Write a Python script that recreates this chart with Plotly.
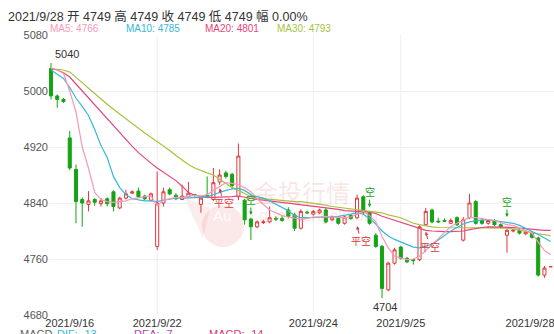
import plotly.graph_objects as go

# ---------------- data ----------------
tick_idx = [3, 17, 42, 56, 76.7]
tick_text = ["2021/9/16", "2021/9/22", "2021/9/24", "2021/9/25", "2021/9/28"]
vgrid_idx = [17, 42, 56]
y_ticks = [4680, 4760, 4840, 4920, 5000, 5080]

opens = [5032, 4993, 4988, 4933, 4888, 4845, 4838, 4845, 4839, 4846,
         4856, 4833, 4847, 4854, 4857, 4850, 4844, 4778, 4840, 4859,
         4851, 4845, 4849, 4852, 4838, 4851, 4845, 4870, 4883, 4881,
         4849, 4844, 4817, 4806, 4812, 4813, 4818, 4818, 4830, 4823,
         4804, 4827, 4824, 4826, 4830, 4816, 4818, 4811, 4822, 4819,
         4849, 4826, 4794, 4778, 4716, 4754, 4777, 4761, 4759, 4759,
         4809, 4830, 4814, 4815, 4811, 4819, 4787, 4819, 4842, 4815,
         4811, 4815, 4809, 4794, 4800, 4801, 4796, 4797, 4790, 4737, 4749]
highs = [5040, 4995, 4990, 4943, 4895, 4848, 4857, 4847, 4847, 4848,
         4858, 4849, 4859, 4858, 4862, 4852, 4855, 4885, 4862, 4862,
         4854, 4866, 4870, 4853, 4849, 4878, 4890, 4888, 4886, 4883,
         4925, 4846, 4819, 4815, 4816, 4835, 4821, 4822, 4834, 4826,
         4831, 4829, 4830, 4832, 4833, 4822, 4820, 4822, 4824, 4852,
         4851, 4828, 4797, 4780, 4756, 4776, 4779, 4763, 4760, 4808,
         4833, 4832, 4819, 4818, 4818, 4821, 4820, 4853, 4844, 4817,
         4817, 4817, 4811, 4803, 4803, 4803, 4801, 4799, 4792, 4750, 4749]
lows = [4988, 4976, 4983, 4887, 4811, 4806, 4828, 4836, 4835, 4835,
        4828, 4831, 4845, 4853, 4847, 4844, 4842, 4773, 4835, 4851,
        4844, 4844, 4848, 4849, 4826, 4847, 4843, 4866, 4875, 4860,
        4844, 4809, 4787, 4804, 4810, 4811, 4814, 4813, 4818, 4800,
        4802, 4824, 4822, 4824, 4811, 4814, 4809, 4809, 4816, 4817,
        4824, 4809, 4776, 4704, 4714, 4752, 4759, 4754, 4752, 4757,
        4807, 4811, 4812, 4813, 4810, 4807, 4785, 4817, 4809, 4809,
        4809, 4807, 4804, 4769, 4798, 4795, 4794, 4789, 4735, 4733, 4749]
closes = [4993, 4988, 4985, 4890, 4842, 4840, 4843, 4841, 4843, 4839,
          4835, 4847, 4853, 4856, 4849, 4846, 4853, 4840, 4856, 4853,
          4846, 4850, 4854, 4851, 4847, 4848, 4869, 4880, 4878, 4865,
          4907, 4816, 4806, 4813, 4813, 4819, 4817, 4815, 4821, 4804,
          4828, 4826, 4828, 4830, 4813, 4820, 4811, 4820, 4818, 4847,
          4826, 4811, 4778, 4718, 4754, 4773, 4761, 4756, 4758, 4806,
          4828, 4813, 4813, 4814, 4815, 4809, 4816, 4840, 4811, 4811,
          4815, 4809, 4806, 4801, 4801, 4797, 4799, 4791, 4737, 4747, 4749]

ma5 = [5033, 5030, 5025, 5000, 4970, 4920, 4890, 4855, 4845, 4842,
       4841, 4842, 4843, 4846, 4848, 4849, 4850, 4836, 4844, 4846,
       4848, 4848, 4850, 4851, 4850, 4852, 4858, 4864, 4869, 4868,
       4866, 4862, 4856, 4846, 4838, 4830, 4826, 4822, 4820, 4818,
       4817, 4818, 4820, 4820, 4821, 4820, 4819, 4819, 4820, 4824,
       4828, 4822, 4813, 4792, 4776, 4764, 4761, 4759, 4760, 4764,
       4772, 4780, 4789, 4798, 4806, 4811, 4815, 4819, 4819, 4818,
       4817, 4815, 4812, 4809, 4808, 4804, 4801, 4797, 4784, 4772, 4766]
ma10 = [5030, 5024, 5018, 5005, 4990, 4978, 4965, 4945, 4922, 4905,
        4878, 4862, 4852, 4846, 4844, 4843, 4843, 4842, 4844, 4846,
        4847, 4847, 4847, 4848, 4848, 4849, 4852, 4856, 4858, 4860,
        4861, 4858, 4852, 4849, 4847, 4843, 4838, 4834, 4829, 4822,
        4819, 4819, 4819, 4820, 4820, 4820, 4821, 4822, 4824, 4826,
        4824, 4818, 4810, 4800, 4793, 4788, 4784, 4780, 4777, 4776,
        4778, 4781, 4787, 4794, 4800, 4805, 4810, 4813, 4815, 4816,
        4816, 4815, 4814, 4813, 4811, 4808, 4804, 4800, 4795, 4790, 4785]
ma20 = [5032, 5030, 5026, 5020, 5010, 5000, 4990, 4980, 4970, 4960,
        4950, 4940, 4930, 4921, 4912, 4904, 4897, 4890, 4884, 4878,
        4872, 4864, 4855, 4851, 4849, 4848, 4848, 4848, 4849, 4849,
        4850, 4848, 4846, 4845, 4844, 4843, 4842, 4841, 4840, 4839,
        4838, 4837, 4836, 4835, 4834, 4833, 4831, 4829, 4828, 4828,
        4828, 4827, 4825, 4821, 4818, 4815, 4812, 4809, 4806, 4803,
        4801, 4800, 4799, 4799, 4799, 4799, 4800, 4802, 4804, 4805,
        4806, 4806, 4806, 4806, 4805, 4804, 4803, 4802, 4801, 4801, 4801]
ma30 = [5032, 5031, 5030, 5027, 5020, 5012, 5004, 4996, 4988, 4981,
        4974, 4967, 4960, 4953, 4946, 4940, 4934, 4928, 4922, 4915,
        4908, 4901, 4895, 4890, 4886, 4883, 4880, 4874, 4868, 4862,
        4858, 4853, 4849, 4847, 4846, 4845, 4844, 4844, 4843, 4842,
        4842, 4841, 4840, 4839, 4837, 4835, 4834, 4832, 4831, 4830,
        4830, 4829, 4828, 4826, 4823, 4821, 4819, 4815, 4811, 4809,
        4807, 4806, 4805, 4805, 4805, 4805, 4805, 4805, 4805, 4805,
        4805, 4805, 4805, 4804, 4803, 4801, 4800, 4798, 4796, 4795, 4793]

# signals: (candle index, arrow-tip price, text, kind)
signals = [(27, 4861, "平空", "close"), (32, 4823, "空", "open"),
           (49, 4807, "平空", "close"), (51, 4834, "空", "open"),
           (60, 4799, "平空", "close"), (73, 4820, "空", "open")]

macd_labels = [("MACD", "#666666"), ("DIF: -13", "#35b9d9"),
               ("DEA: -7", "#b344c4"), ("MACD: -14", "#d8357a")]

# ---------------- styling ----------------
FONT = "Arial, 'Liberation Sans', 'Noto Sans CJK SC', sans-serif"
RED = "#e0363a"
GREEN = "#15a315"
C_MA5, C_MA10, C_MA20, C_MA30 = "#f59ab6", "#36b8d8", "#e8457c", "#a6c33f"

L, R, T, B = 49, 0, 35, 19
W, H = 554, 334
PW, PH = W - L - R, H - T - B


def px(xp):
    return (xp - L) / PW


def py(yp):
    return (H - B - yp) / PH


x = list(range(len(opens)))

fig = go.Figure()
fig.add_trace(go.Candlestick(
    x=x, open=opens, high=highs, low=lows, close=closes,
    increasing=dict(line=dict(color=RED, width=1), fillcolor="#ffffff"),
    decreasing=dict(line=dict(color=GREEN, width=1), fillcolor=GREEN),
    whiskerwidth=0, hoverinfo="skip"))

for arr, col in [(ma30, C_MA30), (ma20, C_MA20), (ma10, C_MA10), (ma5, C_MA5)]:
    fig.add_trace(go.Scatter(x=x, y=arr, mode="lines",
                             line=dict(color=col, width=1.2), hoverinfo="skip"))

shapes = []
for gi in vgrid_idx:
    shapes.append(dict(type="line", xref="x", yref="paper", x0=gi, x1=gi, y0=0, y1=1,
                       line=dict(color="#eeeeee", width=1), layer="below"))
# watermark logo
shapes.append(dict(type="circle", xref="paper", yref="paper",
                   x0=px(202), x1=px(244), y0=py(247), y1=py(205),
                   fillcolor="rgba(236,150,150,0.22)", line=dict(width=0), layer="below"))
shapes.append(dict(type="path", xref="paper", yref="paper",
                   path=f"M {px(210)},{py(208)} L {px(184)},{py(197)} L {px(203)},{py(238)} Z",
                   fillcolor="rgba(236,150,150,0.18)", line=dict(width=0), layer="below"))

ann = []
# header
n = len(opens) - 1
ann.append(dict(xref="paper", yref="paper", x=px(6), y=py(16), xanchor="left", yanchor="middle",
                text=f"2021/9/28 开 {opens[n]} 高 {highs[n]} 收 {closes[n]} 低 {lows[n]} 幅 0.00%",
                showarrow=False, font=dict(size=12.5, color="#333333", family=FONT)))
for name, arr, col, xp in [("MA5", ma5, C_MA5, 48), ("MA10", ma10, C_MA10, 124),
                           ("MA20", ma20, C_MA20, 203), ("MA30", ma30, C_MA30, 275)]:
    ann.append(dict(xref="paper", yref="paper", x=px(xp), y=py(28), xanchor="left",
                    yanchor="middle", text=f"{name}: {arr[-1]}", showarrow=False,
                    font=dict(size=10, color=col, family=FONT)))
# max / min labels
imax = highs.index(max(highs))
imin = lows.index(min(lows))
ann.append(dict(x=imax, y=highs[imax], xanchor="left", yanchor="bottom", text=str(highs[imax]),
                showarrow=False, xshift=2, yshift=1, font=dict(size=11, color="#333333", family=FONT)))
ann.append(dict(x=imin, y=lows[imin], xanchor="center", yanchor="top", text=str(lows[imin]),
                showarrow=False, xshift=3, yshift=-1, font=dict(size=11, color="#333333", family=FONT)))
# signals
for i, p, txt, kind in signals:
    col = RED if kind == "close" else GREEN
    ay = 15 if kind == "close" else -15
    ann.append(dict(x=i, y=p, text=txt, showarrow=True, ax=4 if kind == "close" else 0, ay=ay,
                    arrowhead=2, arrowsize=0.7, arrowwidth=1, arrowcolor=col,
                    font=dict(size=10, color=col, family=FONT)))
# watermark text
ann.append(dict(xref="paper", yref="paper", x=px(302), y=py(193), text="金投行情", showarrow=False,
                font=dict(size=24, color="rgba(230,140,140,0.22)", family=FONT)))
ann.append(dict(xref="paper", yref="paper", x=px(318), y=py(226), text="quote.cngold.org",
                showarrow=False, font=dict(size=16, color="rgba(230,140,140,0.22)", family=FONT)))
ann.append(dict(xref="paper", yref="paper", x=px(222), y=py(226), text="Au", showarrow=False,
                font=dict(size=15, color="rgba(255,255,255,0.9)", family=FONT)))
# bottom MACD row (cut off by the window edge, as in the original)
for (txt, col), xp in zip(macd_labels, [18, 55, 132, 207]):
    ann.append(dict(xref="paper", yref="paper", x=px(xp), y=py(326), xanchor="left", yanchor="top",
                    text=txt, showarrow=False, font=dict(size=11, color=col, family=FONT)))

fig.update_layout(
    width=W, height=H, margin=dict(l=L, r=R, t=T, b=B),
    paper_bgcolor="white", plot_bgcolor="white", showlegend=False,
    font=dict(family=FONT),
    shapes=shapes, annotations=ann,
    xaxis=dict(range=[-0.32, 80.53], tickvals=tick_idx, ticktext=tick_text, showgrid=False,
               zeroline=False, showline=False, ticks="", rangeslider=dict(visible=False),
               ticklabeloverflow="allow",
               tickfont=dict(size=11, color="#333333", family=FONT)),
    yaxis=dict(range=[4680, 5080], tickvals=y_ticks, showgrid=True, gridcolor="#efefef",
               zeroline=False, showline=False, ticks="",
               tickfont=dict(size=11, color="#555555", family=FONT)),
)

fig.write_html("out.html", config={"displayModeBar": False})
